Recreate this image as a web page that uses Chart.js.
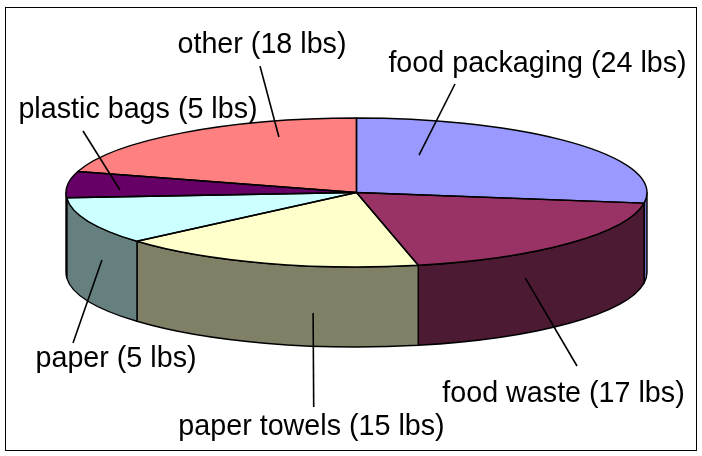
<!DOCTYPE html>
<html>
<head>
<meta charset="utf-8">
<script src="https://cdn.jsdelivr.net/npm/chart.js@4/dist/chart.umd.min.js"></script>
<style>
  html, body { margin: 0; padding: 0; background: #fff; }
  #c { display: block; }
</style>
</head>
<body>
<canvas id="c" width="702" height="456"></canvas>
<script>
// ---- data ----
const categories = ['food packaging', 'food waste', 'paper towels', 'paper', 'plastic bags', 'other'];
// slice sizes as drawn in the picture (lbs)
const weights = [24, 17, 15, 9, 5, 18];
// label texts exactly as printed in the picture
const labelTexts = ['food packaging (24 lbs)', 'food waste (17 lbs)', 'paper towels (15 lbs)',
                    'paper (5 lbs)', 'plastic bags (5 lbs)', 'other (18 lbs)'];
const topColors  = ['#9999FF', '#993366', '#FFFFCC', '#CCFFFF', '#660066', '#FF8080'];
const sideColors = ['#6E6EC0', '#4D1A33', '#808066', '#668080', '#330033', '#804040'];

// label placement (style/layout, not data)
const labelLayout = [
  { x: 537.5, y: 72,  lx: 455,   ly: 84,  wall: false, t: 0.236, f: 0.547 },
  { x: 563.5, y: 402, lx: 577,   ly: 366, wall: true,  t: 0.666, f: 0.31 },
  { x: 311.5, y: 435, lx: 313.7, ly: 407, wall: true,  t: 0.34,  f: 0.585 },
  { x: 116,   y: 367, lx: 73,    ly: 343, wall: true,  t: 0.329, f: 0.395 },
  { x: 138,   y: 118, lx: 83,    ly: 131, wall: false, t: 0.317, f: 0.815 },
  { x: 262,   y: 53,  lx: 260,   ly: 66,  wall: false, t: 0.732, f: 0.791 }
];

function geom(chart, depth) {
  const a = chart.chartArea;
  const rx = (a.right - a.left) / 2;
  const cx = (a.left + a.right) / 2;
  const ry = ((a.bottom - a.top) - depth) / 2;
  const cy = a.top + ry;
  return { cx, cy, rx, ry, depth };
}

const pie3d = {
  id: 'pie3d',
  beforeDatasetsDraw(chart, args, opts) {
    const ctx = chart.ctx;
    const meta = chart.getDatasetMeta(0);
    const g = geom(chart, opts.depth);
    ctx.save();
    ctx.lineWidth = opts.lineWidth;
    ctx.strokeStyle = '#000';
    ctx.lineJoin = 'round';
    meta.data.forEach((arc, i) => {
      const a = Math.max(arc.startAngle, 0);
      const b = Math.min(arc.endAngle, Math.PI);
      if (b <= a) return;
      ctx.beginPath();
      ctx.ellipse(g.cx, g.cy, g.rx, g.ry, 0, a, b, false);
      ctx.lineTo(g.cx + g.rx * Math.cos(b), g.cy + g.ry * Math.sin(b) + g.depth);
      ctx.ellipse(g.cx, g.cy + g.depth, g.rx, g.ry, 0, b, a, true);
      ctx.closePath();
      ctx.fillStyle = sideColors[i];
      ctx.fill();
      ctx.stroke();
    });
    ctx.restore();
    // map the library's circle onto the top ellipse
    const arc0 = meta.data[0];
    ctx.save();
    ctx.translate(g.cx, g.cy);
    ctx.scale(g.rx / arc0.outerRadius, g.ry / arc0.outerRadius);
    ctx.translate(-arc0.x, -arc0.y);
  },
  afterDatasetsDraw(chart, args, opts) {
    const ctx = chart.ctx;
    ctx.restore();
    const meta = chart.getDatasetMeta(0);
    const g = geom(chart, opts.depth);
    ctx.save();
    ctx.lineWidth = opts.lineWidth;
    ctx.strokeStyle = '#000';
    ctx.lineJoin = 'round';
    meta.data.forEach((arc) => {
      ctx.beginPath();
      ctx.moveTo(g.cx, g.cy);
      ctx.ellipse(g.cx, g.cy, g.rx, g.ry, 0, arc.startAngle, arc.endAngle, false);
      ctx.closePath();
      ctx.stroke();
    });
    // labels + leader lines
    ctx.font = opts.font;
    ctx.fillStyle = '#000';
    ctx.textAlign = 'center';
    ctx.textBaseline = 'alphabetic';
    ctx.lineWidth = opts.leaderWidth;
    meta.data.forEach((arc, i) => {
      const L = labelLayout[i];
      const ang = arc.startAngle + L.t * (arc.endAngle - arc.startAngle);
      let px, py;
      if (L.wall) {
        px = g.cx + g.rx * Math.cos(ang);
        py = g.cy + g.ry * Math.sin(ang) + L.f * g.depth;
      } else {
        px = g.cx + L.f * g.rx * Math.cos(ang);
        py = g.cy + L.f * g.ry * Math.sin(ang);
      }
      ctx.beginPath();
      ctx.moveTo(L.lx, L.ly);
      ctx.lineTo(px, py);
      ctx.stroke();
      ctx.fillText(labelTexts[i], L.x, L.y);
    });
    ctx.restore();
  },
  afterDraw(chart) {
    const ctx = chart.ctx;
    ctx.save();
    ctx.strokeStyle = '#000';
    ctx.lineWidth = 1;
    ctx.strokeRect(5.5, 7.5, 691, 443);
    ctx.restore();
  }
};

new Chart(document.getElementById('c'), {
  type: 'pie',
  data: {
    labels: categories,
    datasets: [{
      data: weights,
      backgroundColor: topColors,
      borderWidth: 0,
      clip: false
    }]
  },
  options: {
    responsive: false,
    animation: false,
    events: [],
    devicePixelRatio: 1,
    layout: { padding: { left: 66, right: 55, top: 118, bottom: 109 } },
    plugins: {
      legend: { display: false },
      tooltip: { enabled: false },
      pie3d: { depth: 80, lineWidth: 1.4, leaderWidth: 1.6, font: '28.7px "Liberation Sans", Arial, sans-serif' }
    }
  },
  plugins: [pie3d]
});
</script>
</body>
</html>
